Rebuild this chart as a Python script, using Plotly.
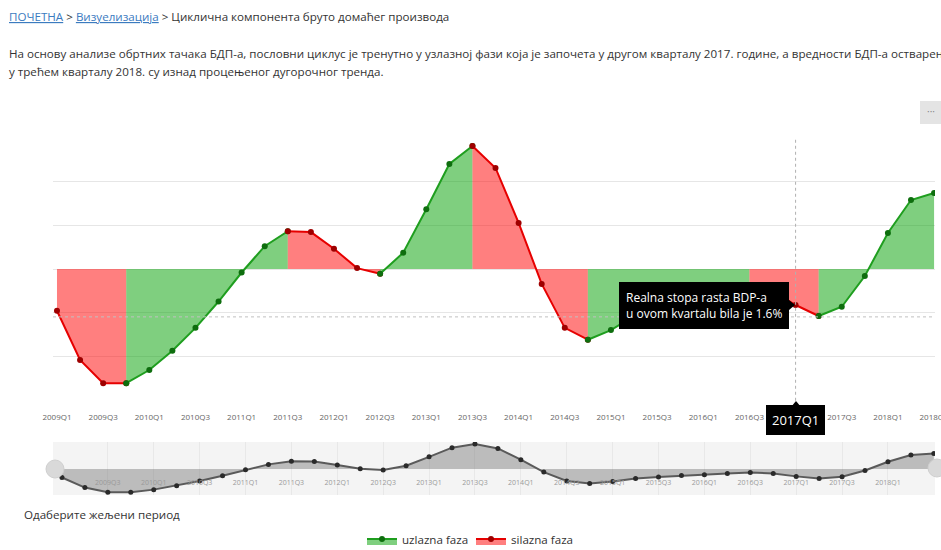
import plotly.graph_objects as go

# ---------------- data ----------------
quarters = ["2009Q1", "2009Q2", "2009Q3", "2009Q4", "2010Q1", "2010Q2", "2010Q3", "2010Q4",
            "2011Q1", "2011Q2", "2011Q3", "2011Q4", "2012Q1", "2012Q2", "2012Q3", "2012Q4",
            "2013Q1", "2013Q2", "2013Q3", "2013Q4", "2014Q1", "2014Q2", "2014Q3", "2014Q4",
            "2015Q1", "2015Q2", "2015Q3", "2015Q4", "2016Q1", "2016Q2", "2016Q3", "2016Q4",
            "2017Q1", "2017Q2", "2017Q3", "2017Q4", "2018Q1", "2018Q2", "2018Q3"]
cycle = [-0.95, -2.07, -2.60, -2.60, -2.30, -1.86, -1.34, -0.74,
         -0.08, 0.52, 0.86, 0.84, 0.46, 0.02, -0.11, 0.37,
         1.36, 2.39, 2.80, 2.30, 1.05, -0.34, -1.34, -1.61,
         -1.39, -1.07, -0.88, -0.73, -0.65, -0.50, -0.38, -0.50,
         -0.82, -1.07, -0.86, -0.16, 0.82, 1.57, 1.73]
turning_points = ["2009Q4", "2011Q3", "2012Q3", "2013Q3", "2014Q4", "2016Q3", "2017Q2"]
first_phase = "silazna"
main_ticks = ["2009Q1", "2009Q3", "2010Q1", "2010Q3", "2011Q1", "2011Q3", "2012Q1", "2012Q3",
              "2013Q1", "2013Q3", "2014Q1", "2014Q3", "2015Q1", "2015Q3", "2016Q1", "2016Q3",
              "2017Q1", "2017Q3", "2018Q1", "2018Q3"]
nav_ticks = main_ticks[1:-1]
phase_names = {"uzlazna": "uzlazna faza", "silazna": "silazna faza"}
hover_quarter = "2017Q1"
tooltip_text = "Realna stopa rasta BDP-a<br>u ovom kvartalu bila je 1.6%"

# ---------------- styles ----------------
styles = {
    "uzlazna": dict(line="#1f9e1f", fill="rgba(0,160,0,0.5)", marker="#0e6e0e"),
    "silazna": dict(line="#e60000", fill="rgba(255,0,0,0.5)", marker="#9e0000"),
}
FONT = "Open Sans"
L, R, T, B = 53, 6, 137, 55
W, H = 941, 550
PW, PH = W - L - R, H - T - B


def px(x):
    return (x - L) / PW


def py(y):
    return (H - B - y) / PH


fig = go.Figure()

# segments between turning points
bounds = [0] + [quarters.index(t) for t in turning_points] + [len(quarters) - 1]
phase = first_phase
shown = set()
for a, b in zip(bounds[:-1], bounds[1:]):
    st = styles[phase]
    fig.add_trace(go.Scatter(
        x=quarters[a:b + 1], y=cycle[a:b + 1],
        mode="lines+markers", fill="tozeroy", fillcolor=st["fill"],
        line=dict(color=st["line"], width=2),
        marker=dict(color=st["marker"], size=6),
        name=phase_names[phase], legendgroup=phase,
        showlegend=phase not in shown,
        legendrank=1 if phase == "uzlazna" else 2,
        xaxis="x", yaxis="y", hoverinfo="skip",
    ))
    shown.add(phase)
    phase = "uzlazna" if phase == "silazna" else "silazna"

# navigator series
fig.add_trace(go.Scatter(
    x=quarters, y=cycle, mode="lines+markers", fill="tozeroy",
    fillcolor="rgba(120,120,120,0.45)",
    line=dict(color="#5a5a5a", width=2),
    marker=dict(color="#2a2a2a", size=5),
    showlegend=False, xaxis="x2", yaxis="y2", hoverinfo="skip",
))

shapes = [
    # navigator background
    dict(type="rect", xref="x2 domain", yref="y2 domain", x0=0, x1=1, y0=0, y1=1,
         fillcolor="#f4f4f4", line=dict(width=0), layer="below"),
    # crosshairs
    dict(type="line", xref="x", yref="y", x0=hover_quarter, x1=hover_quarter, y0=-3, y1=3,
         line=dict(color="#b0b0b0", width=1, dash="dot")),
    dict(type="line", xref="paper", yref="y", x0=0, x1=1, y0=-1.09, y1=-1.09,
         line=dict(color="#c0c0c0", width=1, dash="dot")),
    # pointer of x label box
    dict(type="path", xref="paper", yref="paper",
         path=f"M{px(791)},{py(407)} L{px(796)},{py(401)} L{px(801)},{py(407)} Z",
         fillcolor="black", line=dict(width=0)),
    # pointer of tooltip
    dict(type="path", xref="paper", yref="paper",
         path=f"M{px(789)},{py(300)} L{px(795)},{py(305)} L{px(789)},{py(310)} Z",
         fillcolor="black", line=dict(width=0)),
    # navigator handles
    dict(type="circle", xref="paper", yref="paper",
         x0=px(46), x1=px(64), y0=py(478), y1=py(460),
         fillcolor="#d9d9d9", line=dict(color="#cfcfcf", width=1)),
    dict(type="circle", xref="paper", yref="paper",
         x0=px(928), x1=px(946), y0=py(477), y1=py(459),
         fillcolor="#d9d9d9", line=dict(color="#cfcfcf", width=1)),
    # export button
    dict(type="rect", xref="paper", yref="paper",
         x0=px(920), x1=px(943), y0=py(124), y1=py(101),
         fillcolor="#e4e4e4", line=dict(width=0)),
]

annotations = [
    dict(xref="paper", yref="paper", x=px(7), y=py(17), xanchor="left", yanchor="middle",
         showarrow=False, font=dict(family=FONT, size=11.6, color="#333333"),
         text='<span style="text-decoration:underline;color:#3b7bbf">ПОЧЕТНА</span> &gt; '
              '<span style="text-decoration:underline;color:#3b7bbf">Визуелизација</span> &gt; '
              'Циклична компонента бруто домаћег производа'),
    dict(xref="paper", yref="paper", x=px(7), y=py(54), xanchor="left", yanchor="middle",
         showarrow=False, font=dict(family=FONT, size=11.6, color="#333333"),
         text="На основу анализе обртних тачака БДП-а, пословни циклус је тренутно у узлазној фази "
              "која је започета у другом кварталу 2017. године, а вредности БДП-а остварене"),
    dict(xref="paper", yref="paper", x=px(7), y=py(72), xanchor="left", yanchor="middle",
         showarrow=False, font=dict(family=FONT, size=11.6, color="#333333"),
         text="у трећем кварталу 2018. су изнад процењеног дугорочног тренда."),
    dict(xref="paper", yref="paper", x=px(22), y=py(514), xanchor="left", yanchor="middle",
         showarrow=False, font=dict(family=FONT, size=11.6, color="#333333"),
         text="Одаберите жељени период"),
    dict(xref="paper", yref="paper", x=px(931), y=py(111), xanchor="center", yanchor="middle",
         showarrow=False, font=dict(family=FONT, size=10, color="#888888"), text="···"),
    # tooltip
    dict(xref="paper", yref="paper", x=px(789), y=py(305.5), xanchor="right", yanchor="middle",
         showarrow=False, align="left", bgcolor="black", bordercolor="black", borderpad=6,
         font=dict(family=FONT, size=12, color="white"), text=tooltip_text),
    # x crosshair label
    dict(xref="x", yref="paper", x=hover_quarter, y=py(420), xanchor="center", yanchor="middle",
         showarrow=False, bgcolor="black", bordercolor="black", borderpad=5,
         font=dict(family=FONT, size=13, color="white"), text=hover_quarter),
]

fig.update_layout(
    width=W, height=H,
    margin=dict(l=L, r=R, t=T, b=B, autoexpand=False),
    paper_bgcolor="white", plot_bgcolor="white",
    font=dict(family=FONT, size=12, color="#333333"),
    showlegend=True,
    legend=dict(orientation="h", xref="container", yref="container",
                x=362 / W, y=1 - 539 / H, xanchor="left", yanchor="middle",
                entrywidth=64, entrywidthmode="pixels",
                font=dict(family=FONT, size=11.6, color="#333333"),
                bgcolor="rgba(0,0,0,0)", itemclick=False),
    xaxis=dict(type="category", categoryorder="array", categoryarray=quarters,
               range=[-0.173, 38.04], anchor="y", automargin=False,
               tickmode="array", tickvals=main_ticks, ticktext=main_ticks,
               tickfont=dict(family=FONT, size=8, color="#666666"),
               showgrid=False, showline=False, zeroline=False, ticks="",
               ticklabelstandoff=10),
    yaxis=dict(domain=[py(401), 1], range=[-3.005, 3.005], anchor="x", automargin=False,
               tickmode="array", tickvals=[-3, -2, -1, 0, 1, 2, 3],
               showticklabels=False, showgrid=True, gridcolor="#e6e6e6", gridwidth=1,
               zeroline=False, showline=False),
    xaxis2=dict(type="category", categoryorder="array", categoryarray=quarters,
                range=[-0.39, 38.05], anchor="y2", automargin=False,
                tickmode="array", tickvals=nav_ticks, ticktext=nav_ticks,
                tickfont=dict(family=FONT, size=7, color="#9a9a9a"),
                ticklabelposition="inside", ticklabelstandoff=6,
                showgrid=True, gridcolor="#e8e8e8", showline=False, zeroline=False, ticks=""),
    yaxis2=dict(domain=[0, py(442)], range=[-2.9, 3.02], anchor="x2", automargin=False,
                showticklabels=False, showgrid=False, zeroline=False, showline=False),
    shapes=shapes,
    annotations=annotations,
)

fig.write_html("out.html", config={"displayModeBar": False},
               post_script="document.body.style.margin='0px';document.body.style.overflow='hidden';")
